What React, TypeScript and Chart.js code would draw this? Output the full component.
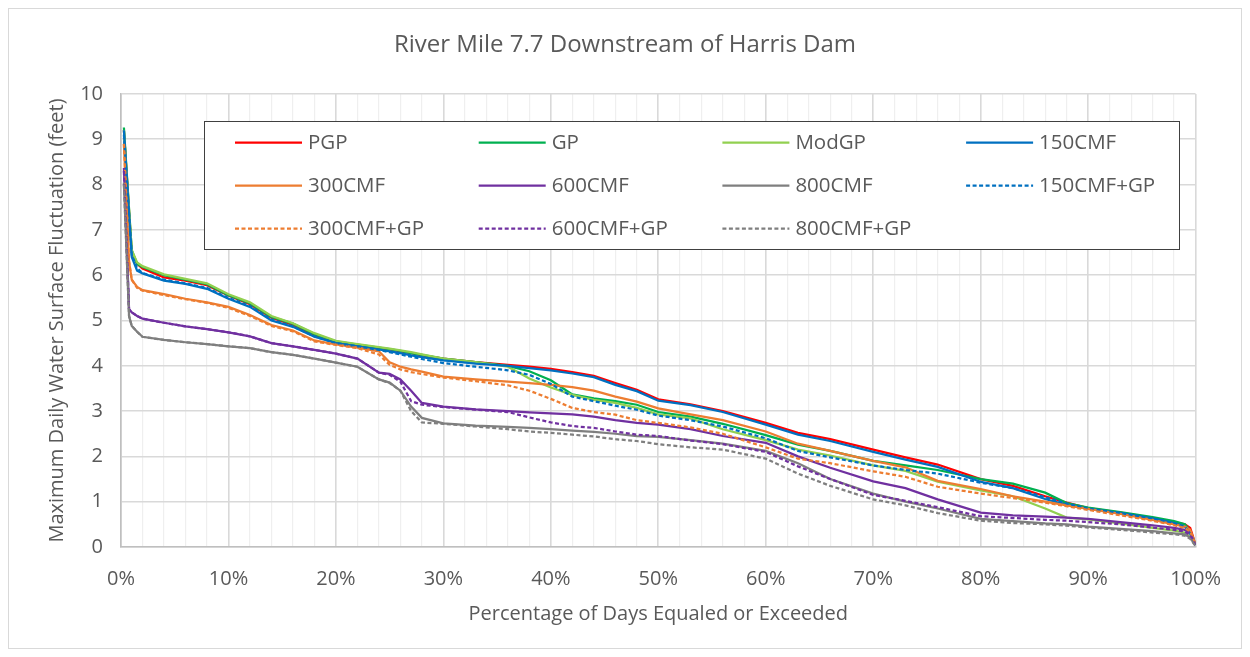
import React, { useEffect, useRef } from 'react';
import { Chart, registerables } from 'chart.js';

Chart.register(...registerables);

const chartTitle = 'River Mile 7.7 Downstream of Harris Dam';
const xAxisTitle = 'Percentage of Days Equaled or Exceeded';
const yAxisTitle = 'Maximum Daily Water Surface Fluctuation (feet)';

// Percentage of days equaled or exceeded (x positions of the sampled points)
const percentages = [0.27, 0.75, 1, 1.5, 2, 4, 6, 8, 10, 12, 14, 16, 18, 20, 22, 24, 25, 26, 27, 28, 30, 33, 36, 38, 40, 42, 44, 46, 48, 50, 53, 56, 60, 63, 66, 70, 73, 76, 80, 83, 86, 88, 90, 93, 96, 98, 99, 99.5, 100];

const pgp = [9.2, 7.4, 6.5, 6.25, 6.15, 5.95, 5.88, 5.78, 5.55, 5.36, 5.06, 4.9, 4.68, 4.52, 4.46, 4.39, 4.36, 4.32, 4.28, 4.23, 4.16, 4.08, 4.02, 3.98, 3.93, 3.86, 3.78, 3.62, 3.47, 3.26, 3.15, 3.0, 2.74, 2.52, 2.38, 2.15, 1.98, 1.82, 1.5, 1.35, 1.12, 0.98, 0.86, 0.76, 0.64, 0.55, 0.5, 0.42, 0.05];
const gp = [9.26, 7.45, 6.55, 6.25, 6.18, 6.0, 5.9, 5.8, 5.56, 5.38, 5.08, 4.93, 4.7, 4.54, 4.47, 4.4, 4.37, 4.33, 4.28, 4.24, 4.16, 4.08, 4.0, 3.88, 3.68, 3.37, 3.28, 3.22, 3.14, 2.98, 2.88, 2.72, 2.47, 2.26, 2.12, 1.9, 1.8, 1.7, 1.5, 1.4, 1.2, 0.97, 0.87, 0.77, 0.66, 0.57, 0.5, 0.35, 0.05];
const modGp = [9.2, 7.45, 6.55, 6.28, 6.2, 6.02, 5.92, 5.82, 5.58, 5.4, 5.1, 4.94, 4.72, 4.55, 4.48, 4.41, 4.38, 4.34, 4.3, 4.25, 4.16, 4.08, 3.98, 3.72, 3.52, 3.36, 3.25, 3.18, 3.07, 2.93, 2.84, 2.6, 2.36, 2.15, 2.02, 1.8, 1.68, 1.44, 1.25, 1.12, 0.85, 0.65, 0.61, 0.52, 0.42, 0.36, 0.32, 0.22, 0.04];
const cmf150 = [9.2, 7.35, 6.4, 6.1, 6.04, 5.88, 5.81, 5.7, 5.48, 5.3, 5.0, 4.86, 4.64, 4.5, 4.43, 4.36, 4.32, 4.28, 4.23, 4.19, 4.12, 4.05, 4.0, 3.95, 3.9, 3.83, 3.75, 3.58, 3.44, 3.23, 3.13, 2.98, 2.7, 2.48, 2.34, 2.1, 1.93, 1.77, 1.44, 1.3, 1.06, 0.93, 0.84, 0.75, 0.63, 0.53, 0.45, 0.32, 0.05];
const cmf300 = [8.9, 6.3, 5.9, 5.74, 5.67, 5.58, 5.48, 5.4, 5.3, 5.12, 4.9, 4.78, 4.56, 4.47, 4.4, 4.32, 4.08, 3.98, 3.92, 3.87, 3.76, 3.7, 3.65, 3.62, 3.58, 3.53, 3.45, 3.32, 3.21, 3.06, 2.93, 2.8, 2.55, 2.28, 2.12, 1.9, 1.76, 1.46, 1.28, 1.12, 1.0, 0.92, 0.84, 0.73, 0.6, 0.5, 0.45, 0.38, 0.05];
const cmf600 = [8.37, 5.25, 5.18, 5.1, 5.04, 4.95, 4.87, 4.81, 4.74, 4.65, 4.5, 4.43, 4.35, 4.27, 4.16, 3.85, 3.82, 3.7, 3.45, 3.18, 3.1, 3.04, 3.0, 2.97, 2.95, 2.93, 2.88, 2.8, 2.74, 2.7, 2.6, 2.45, 2.3, 2.0, 1.75, 1.45, 1.3, 1.05, 0.76, 0.7, 0.67, 0.65, 0.62, 0.55, 0.48, 0.42, 0.38, 0.3, 0.05];
const cmf800 = [8.04, 5.1, 4.88, 4.75, 4.64, 4.57, 4.52, 4.48, 4.43, 4.39, 4.3, 4.24, 4.16, 4.07, 3.98, 3.7, 3.63, 3.45, 3.1, 2.85, 2.73, 2.68, 2.65, 2.63, 2.6, 2.57, 2.54, 2.5, 2.45, 2.43, 2.36, 2.28, 2.12, 1.85, 1.5, 1.18, 1.0, 0.85, 0.62, 0.57, 0.52, 0.5, 0.45, 0.4, 0.35, 0.3, 0.28, 0.2, 0.03];
const cmf150Gp = [9.1, 7.35, 6.45, 6.15, 6.05, 5.9, 5.82, 5.72, 5.5, 5.32, 5.02, 4.87, 4.65, 4.5, 4.43, 4.35, 4.3, 4.25, 4.2, 4.15, 4.06, 3.98, 3.9, 3.8, 3.6, 3.32, 3.22, 3.12, 3.03, 2.9, 2.8, 2.66, 2.4, 2.12, 1.98, 1.8, 1.7, 1.62, 1.42, 1.3, 1.1, 0.96, 0.85, 0.75, 0.63, 0.53, 0.45, 0.3, 0.05];
const cmf300Gp = [8.9, 6.3, 5.9, 5.72, 5.66, 5.56, 5.47, 5.39, 5.28, 5.1, 4.88, 4.76, 4.54, 4.46, 4.39, 4.25, 4.02, 3.92, 3.86, 3.82, 3.74, 3.66, 3.57, 3.45, 3.27, 3.07, 2.98, 2.92, 2.8, 2.74, 2.64, 2.5, 2.2, 1.95, 1.85, 1.67, 1.55, 1.33, 1.18, 1.08, 0.98, 0.9, 0.82, 0.7, 0.58, 0.48, 0.42, 0.34, 0.05];
const cmf600Gp = [8.3, 5.25, 5.18, 5.1, 5.04, 4.95, 4.87, 4.81, 4.74, 4.65, 4.5, 4.43, 4.35, 4.27, 4.16, 3.85, 3.8, 3.65, 3.22, 3.14, 3.09, 3.03, 2.98, 2.86, 2.75, 2.67, 2.63, 2.55, 2.48, 2.45, 2.35, 2.27, 2.1, 1.78, 1.5, 1.15, 1.02, 0.88, 0.68, 0.64, 0.6, 0.58, 0.55, 0.5, 0.43, 0.38, 0.34, 0.26, 0.03];
const cmf800Gp = [8.0, 5.1, 4.88, 4.75, 4.64, 4.57, 4.52, 4.48, 4.43, 4.39, 4.3, 4.24, 4.16, 4.07, 3.98, 3.7, 3.62, 3.45, 3.0, 2.75, 2.72, 2.66, 2.6, 2.55, 2.52, 2.48, 2.44, 2.38, 2.34, 2.27, 2.2, 2.15, 1.95, 1.62, 1.35, 1.05, 0.92, 0.75, 0.58, 0.53, 0.5, 0.47, 0.43, 0.38, 0.32, 0.28, 0.25, 0.18, 0.02];

const seriesLabels = ['PGP', 'GP', 'ModGP', '150CMF', '300CMF', '600CMF', '800CMF', '150CMF+GP', '300CMF+GP', '600CMF+GP', '800CMF+GP'];
const seriesValues = [pgp, gp, modGp, cmf150, cmf300, cmf600, cmf800, cmf150Gp, cmf300Gp, cmf600Gp, cmf800Gp];
const seriesColors = ['#FF0000', '#00B050', '#92D050', '#0070C0', '#ED7D31', '#7030A0', '#7F7F7F', '#0070C0', '#ED7D31', '#7030A0', '#7F7F7F'];
const seriesDashed = [false, false, false, false, false, false, false, true, true, true, true];

const FONT = "'Open Sans', 'Noto Sans', 'DejaVu Sans', sans-serif";
const TEXT = '#595959';
const DASH = [4, 2.5];

export default function App() {
  const ref = useRef<HTMLCanvasElement>(null);

  useEffect(() => {
    if (!ref.current) return;
    const n = seriesLabels.length;
    const datasets = seriesLabels.map((label, i) => ({
      label,
      data: percentages.map((x, j) => ({ x, y: seriesValues[i][j] })),
      borderColor: seriesColors[i],
      backgroundColor: seriesColors[i],
      borderWidth: 2.25,
      borderDash: seriesDashed[i] ? DASH : [],
      pointRadius: 0,
      tension: 0,
      fill: false,
      order: n - 1 - i,
    }));

    const boxLegend = {
      id: 'boxLegend',
      afterDatasetsDraw(chart: any) {
        const { ctx, chartArea } = chart;
        const bx = Math.round(chartArea.left + 83);
        const by = Math.round(chartArea.top + 27);
        const bw = 975;
        const bh = 128;
        ctx.save();
        ctx.fillStyle = '#ffffff';
        ctx.fillRect(bx, by, bw, bh);
        ctx.strokeStyle = '#404040';
        ctx.lineWidth = 1;
        ctx.strokeRect(bx + 0.5, by + 0.5, bw, bh);
        ctx.font = `20.5px ${FONT}`;
        ctx.textBaseline = 'middle';
        ctx.textAlign = 'left';
        seriesLabels.forEach((label, i) => {
          const col = i % 4;
          const row = Math.floor(i / 4);
          const x = bx + 31 + col * 243.7;
          const y = by + 21.5 + row * 43;
          ctx.beginPath();
          ctx.setLineDash(seriesDashed[i] ? DASH : []);
          ctx.strokeStyle = seriesColors[i];
          ctx.lineWidth = 2.25;
          ctx.moveTo(x, y);
          ctx.lineTo(x + 67, y);
          ctx.stroke();
          ctx.setLineDash([]);
          ctx.fillStyle = TEXT;
          ctx.fillText(label, x + 73, y + 1);
        });
        ctx.restore();
      },
    };

    const chart = new Chart(ref.current, {
      type: 'line',
      data: { datasets },
      options: {
        animation: false,
        responsive: false,
        maintainAspectRatio: false,
        layout: { padding: 0 },
        plugins: {
          legend: { display: false },
          tooltip: { enabled: false },
          title: {
            display: true,
            text: chartTitle,
            color: TEXT,
            font: { family: FONT, size: 24, weight: 'normal' },
            padding: { top: 21.6, bottom: 34.6 },
          },
        },
        scales: {
          x: {
            type: 'linear',
            min: 0,
            max: 100,
            afterFit: (scale: any) => {
              scale.height = 101;
            },
            ticks: {
              stepSize: 2,
              autoSkip: false,
              maxRotation: 0,
              padding: 20,
              color: TEXT,
              font: { family: FONT, size: 20 },
              callback: (v: any) => (Math.round(v) % 10 === 0 ? `${Math.round(v)}%` : ''),
            },
            grid: {
              drawTicks: false,
              color: (c: any) => (Math.round(c.tick.value) % 10 === 0 ? '#d9d9d9' : '#efefef'),
              lineWidth: (c: any) => (Math.round(c.tick.value) % 10 === 0 ? 1.6 : 1.2),
            },
            border: { display: true, color: '#bfbfbf', width: 1.6 },
            title: {
              display: true,
              text: xAxisTitle,
              color: TEXT,
              font: { family: FONT, size: 20 },
              padding: { top: 0, bottom: 22 },
            },
          },
          y: {
            min: 0,
            max: 10,
            afterFit: (scale: any) => {
              scale.width = 112;
            },
            ticks: {
              stepSize: 1,
              padding: 18,
              color: TEXT,
              font: { family: FONT, size: 20 },
            },
            grid: {
              drawTicks: false,
              color: '#d9d9d9',
              lineWidth: 1.6,
            },
            border: { display: true, color: '#bfbfbf', width: 1.6 },
            title: {
              display: true,
              text: yAxisTitle,
              color: TEXT,
              font: { family: FONT, size: 20 },
              padding: { top: 36, bottom: 0 },
            },
          },
          // empty right-hand margin (Excel plot area does not reach the chart edge)
          rightMargin: {
            type: 'linear',
            position: 'right',
            min: 0,
            max: 10,
            afterFit: (scale: any) => {
              scale.width = 43;
            },
            ticks: { display: false },
            grid: { display: false, drawOnChartArea: false },
            border: { display: false },
          },
        },
      },
      plugins: [boxLegend],
    } as any);

    return () => chart.destroy();
  }, []);

  return (
    <div
      style={{
        width: 1234,
        height: 641,
        border: '1px solid #d9d9d9',
        boxSizing: 'border-box',
        background: '#ffffff',
      }}
    >
      <canvas ref={ref} width={1232} height={639} style={{ display: 'block' }} />
    </div>
  );
}
